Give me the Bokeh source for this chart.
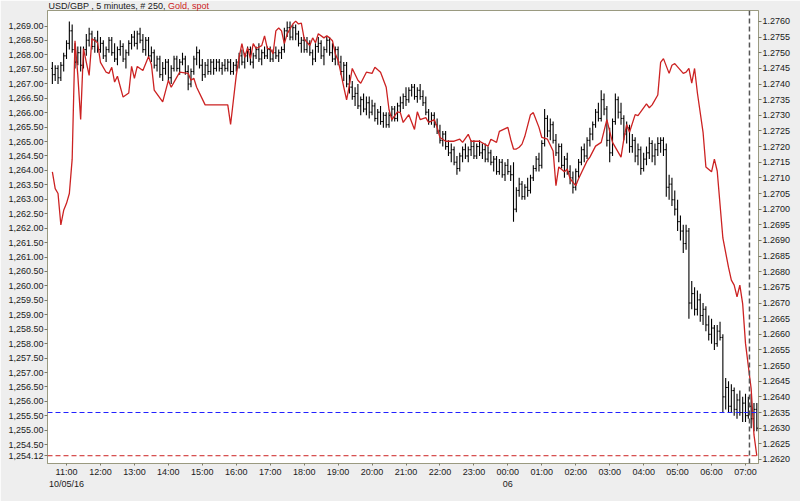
import numpy as np
import pandas as pd
from bokeh.plotting import figure
from bokeh.models import Range1d, LinearAxis, FixedTicker, NumeralTickFormatter, Span, Label
from bokeh.embed import file_html
from bokeh.resources import INLINE

# ---------------- data ----------------
bar_start = "2016-10-05 10:35"   # first 5-minute bar
bar_minutes = 5

usd_gbp_open = [
 1.2745,1.2743,1.2745,1.2742,1.2746,1.2749,1.2753,1.2757,1.2751,1.2747,
 1.2750,1.2746,1.2751,1.2754,1.2756,1.2752,1.2754,1.2751,1.2753,1.2749,
 1.2751,1.2754,1.2750,1.2748,1.2751,1.2752,1.2748,1.2750,1.2753,1.2755,
 1.2753,1.2756,1.2754,1.2751,1.2754,1.2749,1.2750,1.2746,1.2748,1.2743,
 1.2745,1.2747,1.2742,1.2745,1.2748,1.2745,1.2747,1.2748,1.2744,1.2740,
 1.2744,1.2748,1.2750,1.2746,1.2743,1.2746,1.2744,1.2747,1.2745,1.2747,
 1.2745,1.2746,1.2745,1.2747,1.2744,1.2746,1.2747,1.2749,1.2747,1.2749,
 1.2751,1.2747,1.2749,1.2751,1.2748,1.2750,1.2749,1.2751,1.2748,1.2750,
 1.2749,1.2750,1.2751,1.2757,1.2758,1.2755,1.2758,1.2756,1.2753,1.2754,
 1.2751,1.2753,1.2750,1.2748,1.2752,1.2753,1.2749,1.2751,1.2754,1.2750,
 1.2748,1.2751,1.2747,1.2744,1.2746,1.2740,1.2739,1.2736,1.2737,1.2733,
 1.2735,1.2732,1.2734,1.2731,1.2733,1.2729,1.2731,1.2728,1.2730,1.2727,
 1.2730,1.2732,1.2729,1.2733,1.2734,1.2736,1.2735,1.2738,1.2739,1.2736,
 1.2738,1.2736,1.2734,1.2731,1.2728,1.2730,1.2727,1.2725,1.2722,1.2724,
 1.2720,1.2718,1.2719,1.2715,1.2713,1.2717,1.2719,1.2717,1.2719,1.2720,
 1.2717,1.2720,1.2718,1.2719,1.2716,1.2718,1.2715,1.2716,1.2712,1.2715,
 1.2711,1.2714,1.2712,1.2711,1.2700,1.2706,1.2708,1.2704,1.2707,1.2706,
 1.2710,1.2713,1.2716,1.2714,1.2721,1.2729,1.2725,1.2727,1.2722,1.2718,
 1.2720,1.2714,1.2716,1.2712,1.2710,1.2707,1.2712,1.2715,1.2719,1.2717,
 1.2722,1.2724,1.2727,1.2731,1.2729,1.2735,1.2732,1.2722,1.2718,1.2728,
 1.2735,1.2731,1.2729,1.2724,1.2726,1.2720,1.2722,1.2717,1.2719,1.2713,
 1.2716,1.2718,1.2721,1.2717,1.2719,1.2721,1.2722,1.2719,1.2707,1.2708,
 1.2703,1.2700,1.2696,1.2693,1.2689,1.2693,1.2670,1.2673,1.2668,1.2671,
 1.2666,1.2668,1.2663,1.2660,1.2662,1.2657,1.2661,1.2659,1.2640,1.2643,
 1.2637,1.2642,1.2636,1.2639,1.2635,1.2638,1.2634,1.2637,1.2633,1.2636]

usd_gbp_high = [
 1.2747,1.2746,1.2746,1.2747,1.2750,1.2754,1.2760,1.2759,1.2753,1.2752,
 1.2752,1.2752,1.2756,1.2758,1.2757,1.2755,1.2757,1.2755,1.2754,1.2752,
 1.2755,1.2755,1.2753,1.2752,1.2754,1.2753,1.2751,1.2754,1.2756,1.2757,
 1.2757,1.2758,1.2756,1.2755,1.2755,1.2752,1.2751,1.2749,1.2749,1.2747,
 1.2748,1.2748,1.2746,1.2749,1.2749,1.2748,1.2750,1.2749,1.2746,1.2745,
 1.2749,1.2752,1.2751,1.2748,1.2747,1.2748,1.2748,1.2748,1.2748,1.2748,
 1.2747,1.2748,1.2748,1.2748,1.2747,1.2748,1.2750,1.2751,1.2750,1.2752,
 1.2752,1.2750,1.2752,1.2753,1.2751,1.2752,1.2752,1.2752,1.2751,1.2752,
 1.2751,1.2752,1.2758,1.2760,1.2760,1.2759,1.2759,1.2757,1.2755,1.2755,
 1.2755,1.2754,1.2751,1.2753,1.2755,1.2754,1.2752,1.2755,1.2755,1.2753,
 1.2752,1.2752,1.2749,1.2747,1.2747,1.2743,1.2741,1.2739,1.2740,1.2736,
 1.2737,1.2736,1.2736,1.2735,1.2734,1.2732,1.2733,1.2731,1.2731,1.2731,
 1.2733,1.2733,1.2734,1.2736,1.2737,1.2739,1.2739,1.2740,1.2740,1.2739,
 1.2740,1.2738,1.2736,1.2732,1.2731,1.2731,1.2729,1.2727,1.2725,1.2725,
 1.2722,1.2721,1.2720,1.2717,1.2718,1.2720,1.2721,1.2720,1.2722,1.2722,
 1.2721,1.2722,1.2721,1.2721,1.2720,1.2719,1.2717,1.2717,1.2716,1.2716,
 1.2715,1.2716,1.2714,1.2715,1.2707,1.2710,1.2709,1.2708,1.2710,1.2711,
 1.2714,1.2717,1.2718,1.2722,1.2732,1.2730,1.2729,1.2728,1.2724,1.2721,
 1.2721,1.2717,1.2718,1.2714,1.2712,1.2713,1.2716,1.2720,1.2721,1.2723,
 1.2726,1.2728,1.2732,1.2734,1.2738,1.2737,1.2733,1.2726,1.2729,1.2737,
 1.2736,1.2734,1.2730,1.2728,1.2727,1.2724,1.2723,1.2721,1.2720,1.2718,
 1.2720,1.2723,1.2722,1.2721,1.2723,1.2723,1.2723,1.2721,1.2711,1.2710,
 1.2706,1.2703,1.2698,1.2695,1.2695,1.2694,1.2677,1.2675,1.2674,1.2673,
 1.2670,1.2669,1.2666,1.2665,1.2663,1.2663,1.2664,1.2660,1.2646,1.2645,
 1.2644,1.2643,1.2641,1.2642,1.2640,1.2641,1.2640,1.2641,1.2638,1.2638]

usd_gbp_low = [
 1.2740,1.2741,1.2740,1.2741,1.2744,1.2748,1.2751,1.2750,1.2745,1.2746,
 1.2744,1.2745,1.2749,1.2752,1.2751,1.2750,1.2750,1.2750,1.2748,1.2747,
 1.2750,1.2749,1.2747,1.2746,1.2749,1.2747,1.2745,1.2749,1.2751,1.2752,
 1.2751,1.2753,1.2750,1.2749,1.2748,1.2747,1.2745,1.2744,1.2742,1.2741,
 1.2743,1.2741,1.2740,1.2744,1.2744,1.2743,1.2746,1.2743,1.2738,1.2739,
 1.2743,1.2746,1.2745,1.2741,1.2742,1.2743,1.2743,1.2743,1.2744,1.2744,
 1.2743,1.2744,1.2744,1.2743,1.2743,1.2744,1.2745,1.2746,1.2745,1.2747,
 1.2746,1.2745,1.2748,1.2747,1.2746,1.2748,1.2748,1.2747,1.2747,1.2748,
 1.2747,1.2748,1.2750,1.2755,1.2754,1.2754,1.2754,1.2752,1.2750,1.2750,
 1.2750,1.2749,1.2746,1.2747,1.2750,1.2748,1.2746,1.2750,1.2749,1.2747,
 1.2746,1.2746,1.2743,1.2741,1.2739,1.2737,1.2735,1.2733,1.2732,1.2730,
 1.2731,1.2730,1.2729,1.2730,1.2728,1.2727,1.2727,1.2726,1.2726,1.2726,
 1.2728,1.2728,1.2728,1.2731,1.2732,1.2733,1.2734,1.2736,1.2735,1.2734,
 1.2735,1.2733,1.2730,1.2727,1.2727,1.2726,1.2724,1.2721,1.2720,1.2719,
 1.2717,1.2715,1.2714,1.2711,1.2712,1.2715,1.2716,1.2715,1.2717,1.2716,
 1.2716,1.2717,1.2716,1.2715,1.2715,1.2714,1.2712,1.2711,1.2711,1.2710,
 1.2709,1.2711,1.2709,1.2696,1.2699,1.2704,1.2703,1.2703,1.2704,1.2705,
 1.2709,1.2712,1.2712,1.2713,1.2720,1.2723,1.2722,1.2721,1.2717,1.2715,
 1.2713,1.2710,1.2711,1.2708,1.2705,1.2706,1.2710,1.2714,1.2715,1.2716,
 1.2720,1.2722,1.2726,1.2728,1.2728,1.2730,1.2720,1.2715,1.2717,1.2727,
 1.2729,1.2727,1.2722,1.2721,1.2718,1.2718,1.2715,1.2714,1.2711,1.2712,
 1.2714,1.2716,1.2715,1.2714,1.2717,1.2718,1.2717,1.2704,1.2703,1.2701,
 1.2698,1.2693,1.2690,1.2686,1.2687,1.2665,1.2668,1.2666,1.2666,1.2664,
 1.2663,1.2661,1.2658,1.2657,1.2655,1.2656,1.2658,1.2635,1.2636,1.2635,
 1.2635,1.2634,1.2633,1.2634,1.2632,1.2632,1.2633,1.2630,1.2629,1.2629]

usd_gbp_close = [
 1.2743,1.2745,1.2742,1.2746,1.2749,1.2753,1.2757,1.2751,1.2747,1.2750,
 1.2746,1.2751,1.2754,1.2756,1.2752,1.2754,1.2751,1.2753,1.2749,1.2751,
 1.2754,1.2750,1.2748,1.2751,1.2752,1.2748,1.2750,1.2753,1.2755,1.2753,
 1.2756,1.2754,1.2751,1.2754,1.2749,1.2750,1.2746,1.2748,1.2743,1.2745,
 1.2747,1.2742,1.2745,1.2748,1.2745,1.2747,1.2748,1.2744,1.2740,1.2744,
 1.2748,1.2750,1.2746,1.2743,1.2746,1.2744,1.2747,1.2745,1.2747,1.2745,
 1.2746,1.2745,1.2747,1.2744,1.2746,1.2747,1.2749,1.2747,1.2749,1.2751,
 1.2747,1.2749,1.2751,1.2748,1.2750,1.2749,1.2751,1.2748,1.2750,1.2749,
 1.2750,1.2751,1.2757,1.2758,1.2755,1.2758,1.2756,1.2753,1.2754,1.2751,
 1.2753,1.2750,1.2748,1.2752,1.2753,1.2749,1.2751,1.2754,1.2750,1.2748,
 1.2751,1.2747,1.2744,1.2746,1.2740,1.2739,1.2736,1.2737,1.2733,1.2735,
 1.2732,1.2734,1.2731,1.2733,1.2729,1.2731,1.2728,1.2730,1.2727,1.2730,
 1.2732,1.2729,1.2733,1.2734,1.2736,1.2735,1.2738,1.2739,1.2736,1.2738,
 1.2736,1.2734,1.2731,1.2728,1.2730,1.2727,1.2725,1.2722,1.2724,1.2720,
 1.2718,1.2719,1.2715,1.2713,1.2717,1.2719,1.2717,1.2719,1.2720,1.2717,
 1.2720,1.2718,1.2719,1.2716,1.2718,1.2715,1.2716,1.2712,1.2715,1.2711,
 1.2714,1.2712,1.2711,1.2700,1.2706,1.2708,1.2704,1.2707,1.2706,1.2710,
 1.2713,1.2716,1.2714,1.2721,1.2729,1.2725,1.2727,1.2722,1.2718,1.2720,
 1.2714,1.2716,1.2712,1.2710,1.2707,1.2712,1.2715,1.2719,1.2717,1.2722,
 1.2724,1.2727,1.2731,1.2729,1.2735,1.2732,1.2722,1.2718,1.2728,1.2735,
 1.2731,1.2729,1.2724,1.2726,1.2720,1.2722,1.2717,1.2719,1.2713,1.2716,
 1.2718,1.2721,1.2717,1.2719,1.2721,1.2722,1.2719,1.2707,1.2708,1.2703,
 1.2700,1.2696,1.2693,1.2689,1.2693,1.2670,1.2673,1.2668,1.2671,1.2666,
 1.2668,1.2663,1.2660,1.2662,1.2657,1.2661,1.2659,1.2640,1.2643,1.2637,
 1.2642,1.2636,1.2639,1.2635,1.2638,1.2634,1.2637,1.2633,1.2636,1.2630]

# gold spot, sampled at these 5-minute bar slots (counted from bar_start)
gold_slot = [
 0,1,2,3,4,5,6,7,8,9,
 10,11,12,13,14,16,17,19,20,21,
 22,23,25,27,28,29,30,32,34,35,
 36,39,41,42,44,45,48,49,50,51,
 54,62,63,65,66,67,68,69,70,71,
 72,74,75,76,77,78,79,80,81,82,
 83,85,86,87,88,89,91,92,93,94,
 96,97,98,99,100,101,102,103,104,105,
 106,108,109,111,113,114,116,118,119,120,
 122,123,124,126,128,129,130,132,133,135,
 136,137,139,142,144,145,147,148,151,154,
 155,157,158,161,162,163,164,165,166,167,
 169,170,172,173,175,177,178,179,181,182,
 183,185,186,189,190,192,194,196,197,198,
 201,202,203,204,206,207,210,211,212,214,
 215,216,218,219,220,223,224,225,226,227,
 228,230,231,233,234,235,237,239,240,241,
 242,243,244,245,247,248,249]

gold_spot = [
 1263.95,1263.37,1263.20,1262.11,1262.62,1262.86,1263.20,1264.39,1268.49,1267.29,
 1265.76,1268.22,1267.74,1267.29,1268.56,1268.42,1267.74,1267.40,1267.36,1267.57,
 1267.06,1267.26,1266.54,1266.68,1267.60,1267.19,1267.60,1267.46,1267.94,1267.67,
 1266.78,1266.37,1267.12,1266.88,1267.23,1267.40,1267.36,1267.12,1267.19,1266.88,
 1266.27,1266.27,1265.59,1267.29,1267.91,1268.39,1267.91,1268.25,1267.87,1268.39,
 1268.22,1268.32,1268.66,1268.22,1268.22,1268.04,1268.83,1268.93,1268.83,1268.39,
 1268.73,1269.07,1269.17,1269.07,1269.10,1268.56,1268.32,1268.59,1268.42,1268.73,
 1268.59,1268.66,1268.59,1268.49,1268.04,1267.81,1267.36,1266.88,1266.44,1266.95,
 1267.53,1267.12,1267.02,1267.40,1267.36,1267.57,1267.40,1266.88,1266.10,1265.76,
 1266.03,1266.00,1265.66,1265.93,1265.42,1266.03,1265.76,1265.83,1265.66,1265.76,
 1265.49,1265.14,1265.01,1265.01,1265.08,1264.97,1265.25,1265.01,1265.01,1264.84,
 1265.08,1264.97,1265.35,1265.49,1265.08,1264.74,1264.74,1264.80,1264.91,1265.18,
 1265.93,1266.00,1265.49,1265.14,1265.08,1264.67,1263.47,1264.12,1263.95,1264.05,
 1263.71,1263.47,1263.71,1264.33,1264.46,1264.84,1264.97,1265.76,1265.35,1264.97,
 1264.46,1265.08,1265.59,1265.32,1265.93,1265.90,1266.30,1266.17,1266.27,1266.61,
 1267.74,1267.87,1267.36,1267.64,1267.70,1267.36,1267.40,1267.53,1267.02,1267.53,
 1266.68,1265.32,1264.12,1263.95,1264.39,1263.98,1261.66,1260.64,1260.20,1260.03,
 1259.62,1260.03,1259.38,1258.01,1256.44,1254.84,1254.12]

gold_last = 1254.12
usd_gbp_marker = 1.2635
cursor_time = "2016-10-06 07:07"

hour_ticks = [11, 12, 13, 14, 15, 16, 17, 18, 19, 20, 21, 22, 23, 24,
              25, 26, 27, 28, 29, 30, 31]
hour_labels = ["11:00", "12:00", "13:00", "14:00", "15:00", "16:00", "17:00",
               "18:00", "19:00", "20:00", "21:00", "22:00", "23:00", "00:00",
               "01:00", "02:00", "03:00", "04:00", "05:00", "06:00", "07:00"]
date_ticks = [11, 24]
date_labels = ["10/05/16", "06"]

gold_ticks = [1254.5, 1255.0, 1255.5, 1256.0, 1256.5, 1257.0, 1257.5, 1258.0,
              1258.5, 1259.0, 1259.5, 1260.0, 1260.5, 1261.0, 1261.5, 1262.0,
              1262.5, 1263.0, 1263.5, 1264.0, 1264.5, 1265.0, 1265.5, 1266.0,
              1266.5, 1267.0, 1267.5, 1268.0, 1268.5, 1269.0]
fx_ticks = [1.2620, 1.2625, 1.2630, 1.2635, 1.2640, 1.2645, 1.2650, 1.2655,
            1.2660, 1.2665, 1.2670, 1.2675, 1.2680, 1.2685, 1.2690, 1.2695,
            1.2700, 1.2705, 1.2710, 1.2715, 1.2720, 1.2725, 1.2730, 1.2735,
            1.2740, 1.2745, 1.2750, 1.2755, 1.2760]

title_main = "USD/GBP , 5 minutes, # 250, "
title_gold = "Gold, spot"

# ---------------- layout constants ----------------
W, H = 800, 501
BL, BR, BT, BB = 47, 42, 10, 32
FW, FH = W - BL - BR, H - BT - BB
X0, X1 = 10.44, 31.383
G0, G1 = 1253.851, 1269.537
F0, F1 = 1.26187, 1.27635
px_x = (X1 - X0) / FW
px_g = (G1 - G0) / FH

FONT = "Liberation Sans"
FS = "9px"
TXT = "#1a1a1a"
BORDER = "#9a9a80"
RED = "#cc2222"
BLUE = "#2222ff"

day0 = pd.Timestamp("2016-10-05")
t0 = pd.Timestamp(bar_start)
bar_t = t0 + pd.to_timedelta(np.arange(len(usd_gbp_close)) * bar_minutes, unit="min")
bx = ((bar_t - day0) / pd.Timedelta(hours=1)).to_numpy()
gold_t = t0 + pd.to_timedelta(np.array(gold_slot) * bar_minutes, unit="min")
gx = ((gold_t - day0) / pd.Timedelta(hours=1)).to_numpy()
cursor_x = (pd.Timestamp(cursor_time) - day0) / pd.Timedelta(hours=1)

p = figure(width=W, height=H, output_backend="svg", toolbar_location=None,
           x_range=Range1d(X0, X1), y_range=Range1d(G0, G1),
           min_border_left=BL, min_border_right=BR, min_border_top=BT,
           min_border_bottom=BB)
p.extra_y_ranges = {"fx": Range1d(F0, F1)}
p.background_fill_color = "white"
p.border_fill_color = "#eeeeee"
p.outline_line_color = BORDER
p.outline_line_width = 1
p.xgrid.visible = False
p.ygrid.visible = False

# OHLC bars
tick_w = 0.45 * bar_minutes / 60.0
o = np.array(usd_gbp_open); h = np.array(usd_gbp_high)
l = np.array(usd_gbp_low); c = np.array(usd_gbp_close)
p.segment(x0=bx, y0=l, x1=bx, y1=h, y_range_name="fx", line_color="#000000", line_width=1.1)
p.segment(x0=bx - tick_w, y0=o, x1=bx, y1=o, y_range_name="fx", line_color="#000000", line_width=1)
p.segment(x0=bx, y0=c, x1=bx + tick_w, y1=c, y_range_name="fx", line_color="#000000", line_width=1)

# gold line
p.line(gx, gold_spot, line_color=RED, line_width=1.3)

# markers
p.add_layout(Span(location=usd_gbp_marker, dimension="width", y_range_name="fx",
                  line_color=BLUE, line_dash="5 3", line_width=1))
p.add_layout(Span(location=gold_last, dimension="width",
                  line_color=RED, line_dash="5 3", line_width=1))
p.add_layout(Span(location=cursor_x, dimension="height",
                  line_color="#555555", line_dash="5 3", line_width=1.5))

# axes
xa = p.xaxis[0]
xa.ticker = FixedTicker(ticks=hour_ticks)
overrides = {t: s for t, s in zip(hour_ticks, hour_labels)}
for t, s in zip(date_ticks, date_labels):
    overrides[t] = overrides[t] + "\n" + s
xa.major_label_overrides = overrides

ya = p.yaxis[0]
ya.ticker = FixedTicker(ticks=gold_ticks + [gold_last])
ya.formatter = NumeralTickFormatter(format="0,0.00")
ya.major_label_overrides = {gold_last: "1,254.12"}

ra = LinearAxis(y_range_name="fx")
ra.ticker = FixedTicker(ticks=fx_ticks)
ra.formatter = NumeralTickFormatter(format="0.0000")
p.add_layout(ra, "right")

for ax in (xa, ya, ra):
    ax.axis_line_color = BORDER
    ax.major_tick_line_color = "#7a7a66"
    ax.major_tick_out = 3
    ax.major_tick_in = 0
    ax.minor_tick_line_color = None
    ax.major_label_text_font = FONT
    ax.major_label_text_font_size = FS
    ax.major_label_text_color = TXT
    ax.major_label_standoff = 1
xa.major_label_standoff = 1
xa.major_tick_out = 2

def lab(x, y, text, side, color=TXT, align="left", baseline="middle", **kw):
    # placed in a side panel so the text is not clipped to the plot frame
    p.add_layout(Label(x=x, y=y, text=text, text_font=FONT, text_font_size=FS,
                       text_color=color, text_align=align, text_baseline=baseline, **kw),
                 side)

# title (two colours)
lab(X0 + 1 * px_x, G1 + 5 * px_g, title_main, "above")
lab(X0 + 120.5 * px_x, G1 + 5 * px_g, title_gold, "below", color=RED)

open("out.html", "w").write(file_html(p, INLINE))
